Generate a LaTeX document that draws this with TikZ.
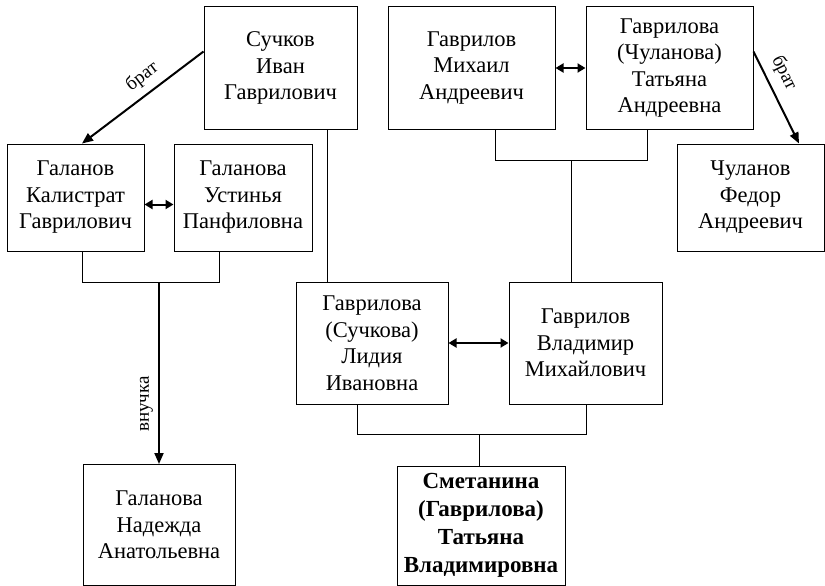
\documentclass[tikz,border=0pt]{standalone}
\usepackage{fontspec}
\setmainfont{Liberation Serif}
\usetikzlibrary{arrows.meta}
\tikzset{person/.style={draw,line width=1pt,align=center,inner sep=0pt,font=\fontsize{22.5}{26.5}\selectfont},
  link/.style={line width=0.9pt},
  rel/.style={line width=2pt,-{Triangle[length=11pt,width=9pt]}},
  pair/.style={line width=2pt,{Triangle[length=8pt,width=9pt]}-{Triangle[length=8pt,width=9pt]}},
  tag/.style={font=\fontsize{19}{21}\selectfont,inner sep=1pt}}
\begin{document}
\begin{tikzpicture}[x=1pt,y=-1pt]
\useasboundingbox (0,0) rectangle (825,586);
\node[person,minimum width=153,minimum height=122](suchkov) at (280.5,68){Сучков\\Иван\\Гаврилович};
\node[person,minimum width=137,minimum height=107](kalistrat) at (75.5,197.5){Галанов\\Калистрат\\Гаврилович};
\node[person,minimum width=138,minimum height=107](ustinya) at (243,197.5){Галанова\\Устинья\\Панфиловна};
\node[person,minimum width=167,minimum height=122](mikhail) at (471.5,68){Гаврилов\\Михаил\\Андреевич};
\node[person,minimum width=167,minimum height=122](tatyana) at (669.5,68){Гаврилова\\(Чуланова)\\Татьяна\\Андреевна};
\node[person,minimum width=147,minimum height=107](fedor) at (750.5,197.5){Чуланов\\Федор\\Андреевич};
\node[person,minimum width=152,minimum height=122](lidiya) at (372,343){Гаврилова\\(Сучкова)\\Лидия\\Ивановна};
\node[person,minimum width=153,minimum height=122](vladimir) at (585.5,343){Гаврилов\\Владимир\\Михайлович};
\node[person,minimum width=168,minimum height=119,font=\fontsize{23}{28}\selectfont\bfseries](smetanina) at (481,525.5){Сметанина\\(Гаврилова)\\Татьяна\\Владимировна};
\node[person,minimum width=152,minimum height=121](nadezhda) at (159,525){Галанова\\Надежда\\Анатольевна};

% brothers
\draw[rel]([yshift=-45]suchkov.north west)--([xshift=6.5]kalistrat.north)node[tag,pos=0.42,sloped,above=6pt]{брат};
\draw[rel]([yshift=-45]tatyana.north east)--([xshift=48.5]fedor.north)node[tag,pos=0.32,sloped,above=7pt]{брат};
% spouses
\draw[pair]([yshift=-7]kalistrat.east)--([yshift=-7]ustinya.west);
\draw[pair](mikhail.east)--(tatyana.west);
\draw[pair](lidiya.east)--(vladimir.west);
% children
\coordinate(galL) at (82,282); \coordinate(galR) at (219,282);
\draw[link](kalistrat.south -| galL)--(galL)--(galR)--(ustinya.south -| galR);
\draw[rel](nadezhda.north |- galL)--(nadezhda.north)node[tag,pos=0.67,rotate=90,anchor=south,inner sep=5pt]{внучка};
\coordinate(gavL) at (495,160); \coordinate(gavR) at (647,160); \coordinate(gavM) at (571,160);
\draw[link](mikhail.south -| gavL)--(gavL)--(gavR)--(tatyana.south -| gavR);
\draw[link](gavM)--(vladimir.north -| gavM);
\coordinate(such) at (327,0);
\draw[link](suchkov.south -| such)--(lidiya.north -| such);
\coordinate(famL) at (357,434); \coordinate(famR) at (586,434); \coordinate(famM) at (479,434);
\draw[link](lidiya.south -| famL)--(famL)--(famR)--(vladimir.south -| famR);
\draw[link](famM)--(smetanina.north -| famM);
\end{tikzpicture}
\end{document}
